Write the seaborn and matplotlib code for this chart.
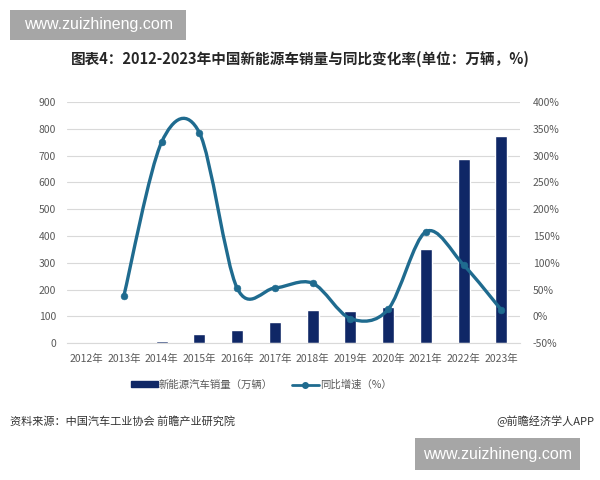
import numpy as np
import pandas as pd
import matplotlib
matplotlib.use("Agg")
import matplotlib.pyplot as plt
import seaborn as sns
from matplotlib.path import Path
from matplotlib.patches import PathPatch, Rectangle
from matplotlib.lines import Line2D

years = ["2012年", "2013年", "2014年", "2015年", "2016年", "2017年",
         "2018年", "2019年", "2020年", "2021年", "2022年", "2023年"]
sales = [1.3, 1.8, 7.5, 33.1, 50.7, 77.7, 125.6, 120.6, 136.7, 352.1, 688.7, 774.0]
growth = [np.nan, 38, 325, 343, 53, 53, 62, -4, 13, 158, 96, 12]

BAR = "#0f2766"
LINE = "#1f6b8f"
GRAY = "#595959"

sns.set_style("white")
plt.rcParams["font.family"] = ["Noto Sans CJK SC", "DejaVu Sans"]

df = pd.DataFrame({"year": years, "sales": sales, "growth": growth})

fig = plt.figure(figsize=(6, 4.8), dpi=100)
ax = fig.add_axes([0.112, 0.285, 0.755, 0.5025])

sns.barplot(data=df, x="year", y="sales", color=BAR, width=0.32,
            saturation=1, ax=ax, zorder=2)
ax.set_ylim(0, 900)
ax.set_yticks(range(0, 901, 100))
ax.set_xlim(-0.5, len(years) - 0.5)
ax.grid(axis="y", color="#d9d9d9", linewidth=0.8, zorder=0)
ax.set_axisbelow(True)
ax.set_xlabel("")
ax.set_ylabel("")
for s in ax.spines.values():
    s.set_visible(False)
ax.spines["bottom"].set_visible(True)
ax.spines["bottom"].set_color("#d9d9d9")
ax.tick_params(axis="both", length=0, labelsize=7.5, labelcolor=GRAY)
ax.tick_params(axis="x", pad=8)
ax.tick_params(axis="y", pad=8)

ax2 = ax.twinx()
ax2.set_ylim(-50, 400)
ax2.set_yticks(range(-50, 401, 50))
ax2.set_yticklabels([f"{v}%" for v in range(-50, 401, 50)])
for s in ax2.spines.values():
    s.set_visible(False)
ax2.tick_params(axis="y", length=0, labelsize=7.5, labelcolor=GRAY, pad=9)

# smoothed line through the growth points (cubic Bezier, Catmull-Rom style)
pts = df.dropna(subset=["growth"])
xs = pts.index.to_numpy(dtype=float)
ys = pts["growth"].to_numpy(dtype=float)
verts = [(xs[0], ys[0])]
codes = [Path.MOVETO]
t = 0.16
for i in range(len(xs) - 1):
    p0 = (xs[i - 1], ys[i - 1]) if i > 0 else (xs[i], ys[i])
    p1 = (xs[i], ys[i])
    p2 = (xs[i + 1], ys[i + 1])
    p3 = (xs[i + 2], ys[i + 2]) if i + 2 < len(xs) else p2
    c1 = (p1[0] + (p2[0] - p0[0]) * t, p1[1] + (p2[1] - p0[1]) * t)
    c2 = (p2[0] - (p3[0] - p1[0]) * t, p2[1] - (p3[1] - p1[1]) * t)
    verts += [c1, c2, p2]
    codes += [Path.CURVE4] * 3
ax2.add_patch(PathPatch(Path(verts, codes), facecolor="none",
                        edgecolor=LINE, linewidth=2.4, zorder=3))
sns.scatterplot(x=xs, y=ys, color=LINE, s=24, edgecolor=LINE, ax=ax2, zorder=4)

handles = [Rectangle((0, 0), 1, 1, color=BAR),
           Line2D([0], [0], color=LINE, linewidth=2, marker="o", markersize=4)]
fig.legend(handles, ["新能源汽车销量（万辆）", "同比增速（%）"],
           loc="center", bbox_to_anchor=(0.435, 0.198), ncol=2, frameon=False,
           fontsize=7.5, labelcolor=GRAY, handlelength=2.6, handleheight=0.5,
           columnspacing=1.8, handletextpad=0.1)

fig.text(0.5, 0.878, "图表4：2012-2023年中国新能源车销量与同比变化率(单位：万辆，%)",
         ha="center", va="center", fontsize=10.5, fontweight="bold", color="#262626")
fig.text(0.017, 0.122, "资料来源：中国汽车工业协会 前瞻产业研究院",
         ha="left", va="center", fontsize=8, color="#333333")
fig.text(0.99, 0.122, "@前瞻经济学人APP", ha="right", va="center",
         fontsize=8, color="#333333")

# site watermark boxes
for (x0, y0, w, h) in [(0.017, 0.917, 0.293, 0.062), (0.692, 0.021, 0.275, 0.066)]:
    fig.patches.append(Rectangle((x0, y0), w, h, transform=fig.transFigure,
                                 facecolor="#a6a6a6", edgecolor="none"))
    fig.text(x0 + w / 2, y0 + h / 2, "www.zuizhineng.com", ha="center",
             va="center", fontsize=11.5, color="white", family=["Liberation Sans"])

fig.savefig("out.png", dpi=100)
